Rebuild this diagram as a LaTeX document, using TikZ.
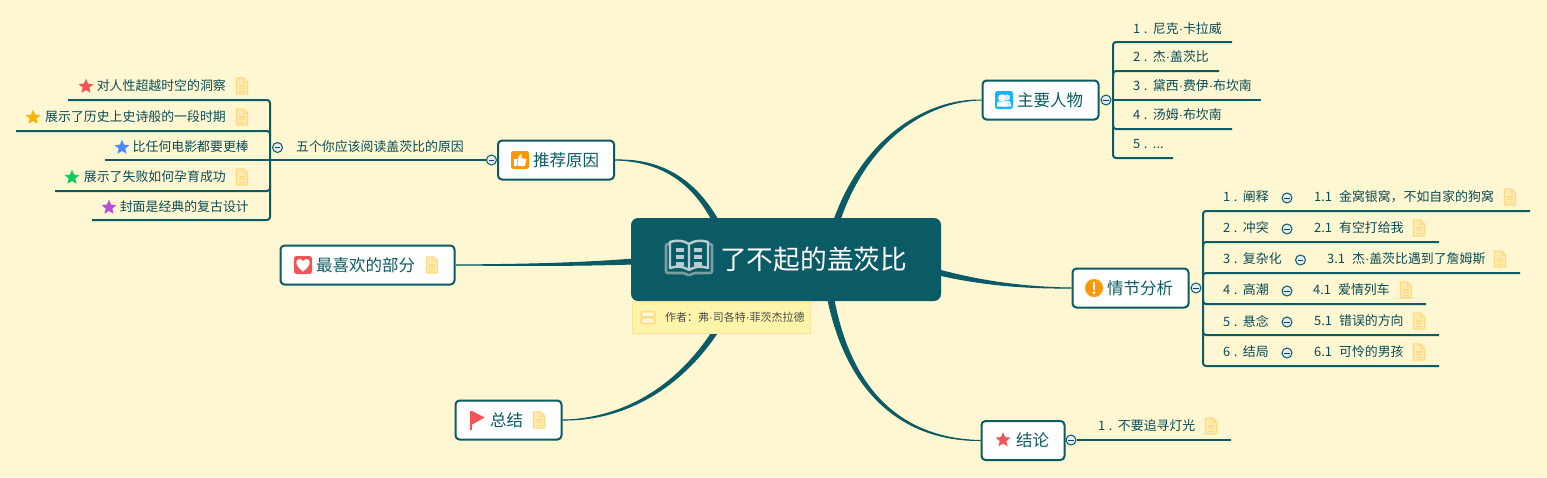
\documentclass[tikz,border=0pt]{standalone}
\usepackage{fontspec}
\setmainfont{Noto Sans CJK SC}
\newfontfamily\dotfont{Liberation Sans}
\newcommand{\md}{{\dotfont ·}}
\newcommand{\numbered}[1]{#1\hspace{3.5pt}.\hspace{5.5pt}}
\usetikzlibrary{shapes.geometric}
\definecolor{paper}{HTML}{FFF6D2}
\definecolor{trunkc}{HTML}{0A5B65}
\definecolor{notec}{HTML}{FFDA80}
\definecolor{redmark}{HTML}{F25555}
\definecolor{orangemark}{HTML}{FF9800}
\definecolor{yellowmark}{HTML}{FFB300}
\definecolor{bluemark}{HTML}{4C8BFF}
\definecolor{greenmark}{HTML}{0ACF5B}
\definecolor{purplemark}{HTML}{B44FD6}
\definecolor{skymark}{HTML}{1CB0F6}
\tikzset{
    trunk/.style={fill=trunkc, draw=trunkc, line width=1pt},
    branch/.style={draw=trunkc, line width=2pt, rounded corners=3pt},
    topic/.style={draw=trunkc, line width=2pt, fill=white, rounded corners=4pt, minimum height=39pt, inner sep=0pt},
    lbl/.style={inner sep=0pt, text=trunkc, font=\fontsize{16.5}{18}\selectfont},
    leaf/.style={inner sep=0pt, text=trunkc!85!black, font=\fontsize{12.9}{15}\selectfont},
    fold/.style={circle, draw=trunkc, line width=1pt, fill=white!88!trunkc, minimum size=10pt, inner sep=0pt,
        path picture={\draw[trunkc!70!blue, line width=1pt] ([xshift=-2.6pt]path picture bounding box.center) -- ([xshift=2.6pt]path picture bounding box.center);}},
    starmark/.style={star, star points=5, star point ratio=2.2, minimum size=15.5pt, inner sep=0pt},
    notedoc/.pic={
        \draw[notec, line width=1.2pt, fill=paper!60!notec, line join=round] (-5.5,-8) -- (1.5,-8) -- (5.5,-4) -- (5.5,8) -- (-5.5,8) -- cycle;
        \draw[notec, line width=1pt] (1.5,-8) -- (1.5,-4) -- (5.5,-4);
        \draw[notec, line width=1.3pt] (-3,0) -- (3,0) (-3,2.7) -- (3,2.7) (-3,5.4) -- (3,5.4);
    },
    bookmark/.pic={
        \draw[white!45!trunkc!80!gray, line width=2.6pt, line join=round, rounded corners=2pt] (-20,-14) -- (-23,-14) -- (-23,15) -- (-4,15) -- (0,18) -- (4,15) -- (23,15) -- (23,-14) -- (20,-14);
        \draw[white!70!trunkc, line width=2.4pt, line join=round] (0,-14) .. controls (-6,-18) and (-13,-18) .. (-19,-16) -- (-19,10) .. controls (-13,8) and (-6,8) .. (0,12) .. controls (6,8) and (13,8) .. (19,10) -- (19,-16) .. controls (13,-18) and (6,-18) .. (0,-14) -- (0,12);
        \foreach \yy in {-10,-3,4} {
            \fill[white!70!trunkc] (-13,\yy) rectangle (-5,\yy+3.5);
            \fill[white!70!trunkc] (5,\yy) rectangle (13,\yy+3.5);
        }
    },
    thumbmark/.pic={
        \fill[orangemark, rounded corners=2.5pt] (-9,-9) rectangle (9,9);
        \fill[white] (-6.5,-1) rectangle (-3.5,6);
        \fill[white, rounded corners=1pt] (-2.5,6) -- (-2.5,-1) -- (0.5,-6.5) -- (2,-5) -- (1.2,-1.5) -- (6.5,-1.5) -- (5,6) -- cycle;
    },
    heartmark/.pic={
        \fill[redmark, rounded corners=2.5pt] (-9,-9) rectangle (9,9);
        \fill[white] (0,6.5) .. controls (-9,0) and (-7.5,-6) .. (-3.5,-6) .. controls (-1.5,-6) and (-0.5,-4.5) .. (0,-3.5) .. controls (0.5,-4.5) and (1.5,-6) .. (3.5,-6) .. controls (7.5,-6) and (9,0) .. (0,6.5) -- cycle;
    },
    flagmark/.pic={
        \fill[redmark] (-7,-9) rectangle (-4.8,10);
        \fill[redmark] (-4.8,-9) -- (7.5,-2.5) -- (-4.8,4.5) -- cycle;
    },
    personmark/.pic={
        \fill[skymark, rounded corners=2.5pt] (-9,-9) rectangle (9,9);
        \fill[white!80!skymark] (3,-2.5) circle (3.2);
        \fill[white!80!skymark] (-1,6.5) -- (0,1) -- (6,1) -- (7.5,6.5) -- cycle;
        \fill[white] (-2,-2) circle (3.8);
        \fill[white, rounded corners=1pt] (-7.5,6.5) -- (-6.5,1.5) -- (2.5,1.5) -- (3.5,6.5) -- cycle;
    },
    warnmark/.pic={
        \fill[orangemark] (0,0) circle (9);
        \fill[white] (-1.4,-6) rectangle (1.4,2);
        \fill[white] (0,4.8) circle (1.6);
    },
    stackmark/.pic={
        \draw[notec, line width=1.5pt, rounded corners=2pt, fill=paper] (-7,-6) rectangle (7,-0.3);
        \draw[notec, line width=1.5pt, rounded corners=2pt, fill=paper] (-7,0.3) rectangle (7,6);
    },
}
\begin{document}
\begin{tikzpicture}[x=1pt, y=-1pt]
    \useasboundingbox[fill=paper] (0,0) rectangle (1547,477);

    \node[rectangle, fill=trunkc, rounded corners=7pt, minimum width=310pt, minimum height=83pt, inner sep=0pt] (root) at (786,259.5) {};
    \node[topic, minimum width=116pt] (recommend) at (556,160) {};
    \node[topic, minimum width=174pt] (favorite) at (367.5,265) {};
    \node[topic, minimum width=106pt] (summary) at (508.5,420) {};
    \node[topic, minimum width=116pt] (people) at (1040.5,100) {};
    \node[topic, minimum width=116pt] (plot) at (1130.5,288) {};
    \node[topic, minimum width=83pt] (ending) at (1023,440.5) {};

    \coordinate (s1a) at (712,220); \coordinate (s1b) at (718,220);
    \coordinate (s2a) at (634,259); \coordinate (s2b) at (634,264);
    \coordinate (s3a) at (730,300); \coordinate (s3b) at (736,300);
    \coordinate (s4a) at (834,220); \coordinate (s4b) at (840,220);
    \coordinate (s5a) at (939,270); \coordinate (s5b) at (939,275);
    \coordinate (s6a) at (828,300); \coordinate (s6b) at (834,300);
    \filldraw[trunk] (s1a) .. controls (688.6,176.4) and (655,161) .. (recommend.east) .. controls (655,159) and (691.4,173.6) .. (s1b) -- cycle;
    \filldraw[trunk] (s2a) .. controls (570,264) and (510,264.5) .. (favorite.east) .. controls (510,265.5) and (570,266) .. (s2b) -- cycle;
    \filldraw[trunk] (s3a) .. controls (693,378.5) and (630,419) .. (summary.east) .. controls (630,421) and (697,381.5) .. (s3b) -- cycle;
    \filldraw[trunk] (s4a) .. controls (863,139) and (925,99) .. (people.west) .. controls (925,101) and (867,141) .. (s4b) -- cycle;
    \filldraw[trunk] (s5a) .. controls (985.5,282.5) and (1030,287.5) .. (plot.west) .. controls (1030,288.5) and (984.5,285.5) .. (s5b) -- cycle;
    \filldraw[trunk] (s6a) .. controls (848,395.5) and (905,441) .. (ending.west) .. controls (905,439) and (852,394.5) .. (s6b) -- cycle;

    \pic at (689,258) {bookmark};
    \node[inner sep=0pt, anchor=west, text=white, font=\fontsize{26.7}{30}\selectfont] (title) at (720,259) {了不起的盖茨比};
    \node[rectangle, draw=notec!70!paper, fill=yellow!18!paper, line width=0.7pt, minimum width=178pt, minimum height=32pt, inner sep=0pt] (author) at (721,317) {};
    \pic at (648,317.5) {stackmark};
    \node[inner sep=0pt, anchor=west, text=black!70, font=\fontsize{11}{13}\selectfont] (authortext) at (665,317.5) {作者：弗\md 司各特\md 菲茨杰拉德};

    \pic at (520,160) {thumbmark};
    \node[lbl, anchor=west] (recommendtext) at (533,160) {推荐原因};
    \pic at (303,265) {heartmark};
    \node[lbl, anchor=west] (favoritetext) at (316,265) {最喜欢的部分};
    \pic at (432,265) {notedoc};
    \pic at (477,420) {flagmark};
    \node[lbl, anchor=west] (summarytext) at (490,420) {总结};
    \pic at (539,420) {notedoc};
    \pic at (1004,100) {personmark};
    \node[lbl, anchor=west] (peopletext) at (1017,100) {主要人物};
    \pic at (1094,288) {warnmark};
    \node[lbl, anchor=west] (plottext) at (1107,288) {情节分析};
    \node[starmark, fill=redmark] (endingstar) at (1003,440) {};
    \node[lbl, anchor=west] (endingtext) at (1016,440) {结论};

    \node[fold] (foldrec) at (491.5,160) {};
    \node[fold] (foldreasons) at (277.5,147.5) {};
    \node[fold] (foldpeople) at (1106,100) {};
    \node[fold] (foldplot) at (1196,288) {};
    \node[fold] (foldend) at (1071,440) {};

    \node[leaf, anchor=east] (reasons) at (464,147) {五个你应该阅读盖茨比的原因};
    \coordinate (r1) at (68,100); \coordinate (r1c) at (270,100);
    \coordinate (r2) at (16,131); \coordinate (r2c) at (270,131);
    \coordinate (r3) at (105,160);
    \coordinate (r4) at (55,191); \coordinate (r4c) at (270,191);
    \coordinate (r5) at (92,220); \coordinate (r5c) at (270,220);
    \draw[branch] (r1) -- (r1c) -- (r5c) -- (r5);
    \draw[branch] (r2) -- (r2c) -- ([yshift=-5pt]r2c);
    \draw[branch] (r3) -- (foldrec);
    \draw[branch] (r4) -- (r4c) -- ([yshift=5pt]r4c);
    \node[leaf, anchor=east] (r1t) at (226,86) {对人性超越时空的洞察};
    \node[leaf, anchor=east] (r2t) at (226,117) {展示了历史上史诗般的一段时期};
    \node[leaf, anchor=east] (r3t) at (249,147) {比任何电影都要更棒};
    \node[leaf, anchor=east] (r4t) at (226,177) {展示了失败如何孕育成功};
    \node[leaf, anchor=east] (r5t) at (249,207) {封面是经典的复古设计};
    \node[starmark, fill=redmark] (r1s) at (86,86.5) {};
    \node[starmark, fill=yellowmark] (r2s) at (33,117.5) {};
    \node[starmark, fill=bluemark] (r3s) at (122,147.5) {};
    \node[starmark, fill=greenmark] (r4s) at (72,177.5) {};
    \node[starmark, fill=purplemark] (r5s) at (109,207.5) {};
    \pic at (242,86) {notedoc};
    \pic at (242,117) {notedoc};
    \pic at (242,177) {notedoc};

    \coordinate (p1) at (1232,42); \coordinate (p1c) at (1113,42);
    \coordinate (p2) at (1219,71); \coordinate (p2c) at (1113,71);
    \coordinate (p3) at (1261,100);
    \coordinate (p4) at (1232,129); \coordinate (p4c) at (1113,129);
    \coordinate (p5) at (1173,158); \coordinate (p5c) at (1113,158);
    \draw[branch] (p1) -- (p1c) -- (p5c) -- (p5);
    \draw[branch] (p2) -- (p2c) -- ([yshift=-5pt]p2c);
    \draw[branch] (foldpeople) -- (p3);
    \draw[branch] (p4) -- (p4c) -- ([yshift=5pt]p4c);
    \node[leaf, anchor=west] (p1t) at (1133,29) {\numbered{1}尼克\md 卡拉威};
    \node[leaf, anchor=west] (p2t) at (1133,57) {\numbered{2}杰\md 盖茨比};
    \node[leaf, anchor=west] (p3t) at (1133,86) {\numbered{3}黛西\md 费伊\md 布坎南};
    \node[leaf, anchor=west] (p4t) at (1133,115) {\numbered{4}汤姆\md 布坎南};
    \node[leaf, anchor=west] (p5t) at (1133,144) {\numbered{5}...};

    \coordinate (a1) at (1530,211); \coordinate (a1c) at (1203,211);
    \coordinate (a2) at (1439,242); \coordinate (a2c) at (1203,242);
    \coordinate (a3) at (1520,273); \coordinate (a3c) at (1203,273);
    \coordinate (a4) at (1426,304); \coordinate (a4c) at (1203,304);
    \coordinate (a5) at (1439,335); \coordinate (a5c) at (1203,335);
    \coordinate (a6) at (1439,366); \coordinate (a6c) at (1203,366);
    \draw[branch] (a1) -- (a1c) -- (a6c) -- (a6);
    \draw[branch] (a2) -- (a2c) -- ([yshift=-5pt]a2c);
    \draw[branch] (a3) -- (a3c) -- ([yshift=-5pt]a3c);
    \draw[branch] (a4) -- (a4c) -- ([yshift=5pt]a4c);
    \draw[branch] (a5) -- (a5c) -- ([yshift=5pt]a5c);
    \draw[trunkc, line width=1.5pt] (foldplot) -- (a3c |- foldplot);
    \node[leaf, anchor=west] (a1t) at (1223,197) {\numbered{1}阐释};
    \node[leaf, anchor=west] (a2t) at (1223,228) {\numbered{2}冲突};
    \node[leaf, anchor=west] (a3t) at (1223,259) {\numbered{3}复杂化};
    \node[leaf, anchor=west] (a4t) at (1223,290) {\numbered{4}高潮};
    \node[leaf, anchor=west] (a5t) at (1223,321) {\numbered{5}悬念};
    \node[leaf, anchor=west] (a6t) at (1223,352) {\numbered{6}结局};
    \node[fold] (a1f) at (1287,198) {};
    \node[fold] (a2f) at (1287,229) {};
    \node[fold] (a3f) at (1300.5,260) {};
    \node[fold] (a4f) at (1287,291) {};
    \node[fold] (a5f) at (1287,322) {};
    \node[fold] (a6f) at (1287,353) {};
    \node[leaf, anchor=west] (b1t) at (1314,197) {1.1\hspace{7pt}金窝银窝，不如自家的狗窝};
    \node[leaf, anchor=west] (b2t) at (1314,228) {2.1\hspace{7pt}有空打给我};
    \node[leaf, anchor=west] (b3t) at (1327,259) {3.1\hspace{7pt}杰\md 盖茨比遇到了詹姆斯};
    \node[leaf, anchor=west] (b4t) at (1313,290) {4.1\hspace{7pt}爱情列车};
    \node[leaf, anchor=west] (b5t) at (1314,321) {5.1\hspace{7pt}错误的方向};
    \node[leaf, anchor=west] (b6t) at (1314,352) {6.1\hspace{7pt}可怜的男孩};
    \pic at (1510,197) {notedoc};
    \pic at (1419,228) {notedoc};
    \pic at (1500,259) {notedoc};
    \pic at (1406,290) {notedoc};
    \pic at (1419,321) {notedoc};
    \pic at (1419,352) {notedoc};

    \coordinate (e1) at (1231,440);
    \draw[branch] (foldend) -- (e1);
    \node[leaf, anchor=west] (e1t) at (1098,426) {\numbered{1}不要追寻灯光};
    \pic at (1211,426) {notedoc};
\end{tikzpicture}
\end{document}
